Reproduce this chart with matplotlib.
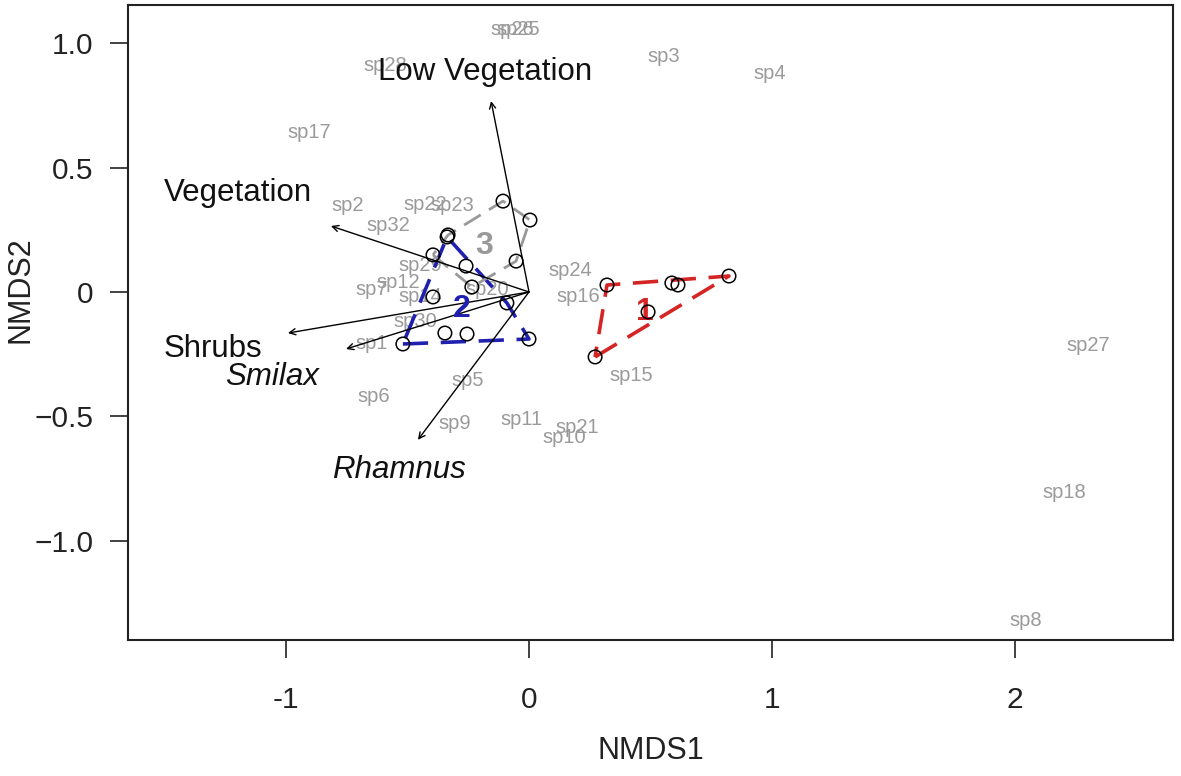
import matplotlib
matplotlib.use("Agg")
import matplotlib.pyplot as plt
import numpy as np

plt.rcParams['font.family'] = ['Liberation Sans', 'DejaVu Sans']

# ---- species scores (labels only) ----
species = ["sp25", "sp26", "sp28", "sp3", "sp4", "sp17", "sp2", "sp22", "sp23", "sp32",
           "sp29", "sp24", "sp16", "sp7", "sp12", "sp14", "sp30", "sp20", "sp1", "sp5",
           "sp6", "sp9", "sp11", "sp21", "sp10", "sp15", "sp27", "sp18", "sp8"]
sp_x = [-0.045, -0.070, -0.593, 0.556, 0.992, -0.905, -0.745, -0.428, -0.317, -0.580,
        -0.449, 0.169, 0.202, -0.646, -0.539, -0.449, -0.469, -0.170, -0.646, -0.251,
        -0.638, -0.305, -0.029, 0.198, 0.144, 0.420, 2.300, 2.202, 2.045]
sp_y = [1.056, 1.056, 0.908, 0.944, 0.876, 0.639, 0.349, 0.353, 0.349, 0.269,
        0.108, 0.088, -0.020, 0.008, 0.040, -0.020, -0.120, 0.010, -0.205, -0.357,
        -0.418, -0.530, -0.514, -0.546, -0.586, -0.337, -0.217, -0.807, -1.321]

# ---- site scores ----
site_x = [0.321, 0.272, 0.588, 0.613, 0.823, 0.490,
          -0.519, -0.346, -0.255, 0.000, -0.091, -0.395, -0.337,
          -0.333, -0.107, 0.004, -0.053, -0.235, -0.395, -0.259]
site_y = [0.028, -0.261, 0.036, 0.028, 0.064, -0.080,
          -0.209, -0.165, -0.169, -0.189, -0.044, -0.020, 0.221,
          0.229, 0.365, 0.289, 0.124, 0.020, 0.149, 0.104]
site_group = [1, 1, 1, 1, 1, 1,
              2, 2, 2, 2, 2, 2, 2,
              3, 3, 3, 3, 3, 3, 3]
group_names = ["1", "2", "3"]
group_colors = ["#d42424", "#2020b0", "#999999"]
group_label_x = [0.475, -0.275, -0.185]
group_label_y = [-0.080, -0.070, 0.185]

# ---- environmental vectors ----
vec_names = ["Low Vegetation", "Vegetation", "Shrubs", "Smilax", "Rhamnus"]
vec_x = [-0.156, -0.815, -0.992, -0.753, -0.457]
vec_y = [0.767, 0.265, -0.165, -0.229, -0.594]
vec_label_x = [-0.181, -1.198, -1.300, -1.058, -0.535]
vec_label_y = [0.884, 0.398, -0.229, -0.341, -0.715]
vec_italic = [False, False, False, True, True]


def convex_hull(pts):
    pts = sorted(set(pts))
    if len(pts) < 3:
        return pts
    def cross(o, a, b):
        return (a[0]-o[0])*(b[1]-o[1]) - (a[1]-o[1])*(b[0]-o[0])
    lower, upper = [], []
    for p in pts:
        while len(lower) >= 2 and cross(lower[-2], lower[-1], p) <= 0:
            lower.pop()
        lower.append(p)
    for p in reversed(pts):
        while len(upper) >= 2 and cross(upper[-2], upper[-1], p) <= 0:
            upper.pop()
        upper.append(p)
    return lower[:-1] + upper[:-1]


fig = plt.figure(figsize=(11.81, 7.76), dpi=100)
ax = fig.add_axes([0.1084, 0.1753, 0.8848, 0.8183])
ax.set_xlim(-1.65, 2.65)
ax.set_ylim(-1.398, 1.153)

# species labels
for name, x, y in zip(species, sp_x, sp_y):
    ax.text(x, y, name, color="#9a9a9a", fontsize=14.5, ha="center", va="center", zorder=2)

# hulls
sx = np.array(site_x); sy = np.array(site_y); sg = np.array(site_group)
for gi, (gname, col) in enumerate(zip(group_names, group_colors)):
    g = gi + 1
    pts = list(zip(sx[sg == g], sy[sg == g]))
    hull = convex_hull(pts)
    hx = [p[0] for p in hull] + [hull[0][0]]
    hy = [p[1] for p in hull] + [hull[0][1]]
    lw = 2.6 if g != 3 else 2.0
    ax.plot(hx, hy, color=col, lw=lw, dashes=(7, 3.5), zorder=3, solid_capstyle='butt')
    ax.text(group_label_x[gi], group_label_y[gi], gname, color=col, fontsize=23,
            fontweight="bold", ha="center", va="center", zorder=5)

# vectors
for name, x, y, lx, ly, it in zip(vec_names, vec_x, vec_y, vec_label_x, vec_label_y, vec_italic):
    ax.annotate("", xy=(x, y), xytext=(0, 0),
                arrowprops=dict(arrowstyle="->", color="black", lw=1.0,
                                mutation_scale=11, shrinkA=0, shrinkB=0), zorder=4)
    ax.text(lx, ly, name, fontsize=22.5, ha="center", va="center", color="#111111",
            style="italic" if it else "normal", zorder=5)

# sites
ax.scatter(site_x, site_y, s=95, facecolors="none", edgecolors="black", linewidths=1.1, zorder=6)

# axes styling
ax.set_xticks([-1, 0, 1, 2])
ax.set_xticklabels(["-1", "0", "1", "2"])
ax.set_yticks([-1.0, -0.5, 0, 0.5, 1.0])
ax.set_yticklabels(["\u22121.0", "\u22120.5", "0", "0.5", "1.0"])
ax.tick_params(axis="both", direction="out", length=13, width=1.2, labelsize=21.5,
               colors="#222222")
ax.tick_params(axis="x", pad=20)
ax.tick_params(axis="y", pad=12)
for s in ax.spines.values():
    s.set_linewidth(1.5)
    s.set_color("#222222")
ax.set_xlabel("NMDS1", fontsize=22, color="#222222", labelpad=16)
ax.set_ylabel("NMDS2", fontsize=22, color="#222222")
ax.yaxis.set_label_coords(-0.089, 0.551)

fig.savefig("out.png", dpi=100)
